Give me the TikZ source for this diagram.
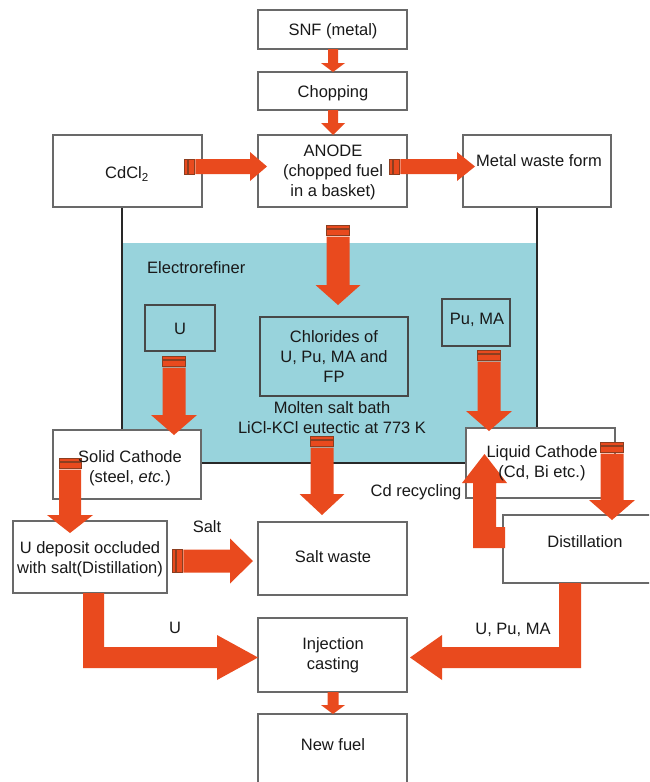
\documentclass[tikz,border=0pt]{standalone}
\usepackage{fontspec}
\setmainfont{Liberation Sans}
\definecolor{flow}{RGB}{233,74,30}
\definecolor{bath}{RGB}{152,211,220}
\definecolor{edge}{RGB}{105,105,105}
\definecolor{stripeline}{RGB}{140,62,32}
\definecolor{wall}{RGB}{40,40,40}
\definecolor{ink}{RGB}{25,25,25}

% box between (x1,y1) and (x2,y2), pixel-like units
\newcommand{\boxat}[6][box]{%
  \node[#1, minimum width={#5-#3}, minimum height={#6-#4}] (#2) at ({(#3+#5)/2},{(#4+#6)/2}) {};}
% downward block arrow: cx, ytop, yheadbase, ytip, half shaft, half head
\newcommand{\blockdown}[6]{%
  \fill[arrowbody] ({#1-#5},#2) -- ({#1+#5},#2) -- ({#1+#5},#3) -- ({#1+#6},#3) -- (#1,#4)
    -- ({#1-#6},#3) -- ({#1-#5},#3) -- cycle;}
% rightward block arrow: cy, xleft, xheadbase, xtip, half shaft, half head
\newcommand{\blockright}[6]{%
  \fill[arrowbody] (#2,{#1-#5}) -- (#3,{#1-#5}) -- (#3,{#1-#6}) -- (#4,#1) -- (#3,{#1+#6})
    -- (#3,{#1+#5}) -- (#2,{#1+#5}) -- cycle;}
% tail stripes of a downward arrow: cx, ytop, half width
\newcommand{\vstripes}[3]{%
  \filldraw[stripe] ({#1-#3},#2) rectangle ({#1+#3},{#2+3.5});
  \filldraw[stripe] ({#1-#3},{#2+4.8}) rectangle ({#1+#3},{#2+10.2});}
% tail stripes of a rightward arrow: xleft, cy, half height
\newcommand{\hstripes}[3]{%
  \filldraw[stripe] (#1,{#2-#3}) rectangle ({#1+3},{#2+#3});
  \filldraw[stripe] ({#1+4.3},{#2-#3}) rectangle ({#1+10},{#2+#3});}

\begin{document}
\begin{tikzpicture}[x=1pt,y=-1pt,
  box/.style={draw=edge, line width=1.4pt, fill=white, inner sep=0pt},
  inbox/.style={draw=wall!85, line width=1.3pt, inner sep=0pt},
  txt/.style={text=ink, font=\fontsize{16.5}{20}\selectfont, align=center, inner sep=0pt},
  arrowbody/.style={fill=flow},
  stripe/.style={fill=flow, draw=stripeline, line width=0.7pt}]

\fill[white] (0,0) rectangle (649,782);
\useasboundingbox (0,0) rectangle (649,782);
\clip (0,0) rectangle (649,782);

% electrorefiner vessel with molten salt
\fill[bath] (122,243) rectangle (537,463);
\draw[wall, line width=2pt] (122,207) -- (122,463) -- (537,463) -- (537,207);

% boxes
\boxat{snf}{258}{10}{407}{49}
\boxat{chop}{258}{72}{407}{110}
\boxat{anode}{258}{135}{407}{207}
\boxat{cdcl}{53}{135}{202}{207}
\boxat{metal}{463}{135}{611}{207}
\boxat[inbox]{ubox}{145}{305}{215}{351}
\boxat[inbox]{pubox}{442}{299}{510}{346}
\boxat[inbox]{chlor}{260}{317}{408}{396}
\boxat{solid}{53}{430}{201}{499}
\boxat{liquid}{466}{428}{615}{498}
\boxat{udep}{13}{521}{167}{593}
\boxat{saltw}{258}{522}{407}{595}
\boxat{dist}{503}{515}{672}{583}
\boxat{inj}{258}{618}{407}{692}
\boxat{newf}{258}{714}{407}{800}

% plain feed arrows
\blockdown{333}{49}{63}{72}{5}{12}
\blockdown{333}{110}{123}{135}{5}{12}
\blockdown{333}{692}{705}{714}{5.5}{12}

% striped arrows
\vstripes{338}{225}{11.5}\blockdown{338}{236.5}{285}{305}{11.5}{22.5}
\vstripes{174}{356}{11.5}\blockdown{174}{367.5}{415}{435}{11.5}{23}
\vstripes{489}{350}{11.5}\blockdown{489}{361.5}{411}{431}{11.5}{23}
\vstripes{322}{436}{11.5}\blockdown{322}{447.5}{494}{515}{11.5}{22.5}
\vstripes{70}{458}{11}\blockdown{70}{469.5}{515}{533}{11}{23}
\vstripes{612}{442}{11.5}\blockdown{612}{453.5}{500}{520}{11.5}{23}

\hstripes{184}{166.5}{7.5}\blockright{166.5}{195.3}{250}{267}{7.5}{14.5}
\hstripes{389}{166.5}{7.5}\blockright{166.5}{400.3}{457}{475}{7.5}{14.5}
\hstripes{172}{561}{11.5}\blockright{561}{183.3}{230}{253}{11.5}{22.5}

% Cd recycling: distillation back to the liquid cathode
\fill[arrowbody] (505,527) -- (496,527) -- (496,483) -- (507,483) -- (484.5,454)
  -- (462,483) -- (473,483) -- (473,548) -- (505,548) -- cycle;
% U to injection casting
\fill[arrowbody] (83,593) -- (104,593) -- (104,647) -- (217,647) -- (217,635) -- (258,657.5)
  -- (217,680) -- (217,668) -- (83,668) -- cycle;
% U, Pu, MA to injection casting
\fill[arrowbody] (559,583) -- (581,583) -- (581,668) -- (442,668) -- (442,680) -- (410,657.5)
  -- (442,635) -- (442,647) -- (559,647) -- cycle;

% texts
\node[txt] (tsnf) at (333,31) {SNF (metal)};
\node[txt] (tchop) at (333,93) {Chopping};
\node[txt] (tanode) at (333,172) {ANODE\\(chopped fuel\\in a basket)};
\node[txt] (tcdcl) at (127,174) {CdCl\textsubscript{2}};
\node[txt] (tmetal) at (539,161) {Metal waste form};
\node[txt, anchor=west] (tref) at (147,268) {Electrorefiner};
\node[txt] (tu) at (180,329) {U};
\node[txt] (tpu) at (477,320) {Pu, MA};
\node[txt] (tchlor) at (334,357) {Chlorides of\\U, Pu, MA and\\FP};
\node[txt] (tbath) at (332,418) {Molten salt bath\\LiCl-KCl eutectic at 773 K};
\node[txt] (tsolid) at (130,468) {Solid Cathode\\(steel, \textit{etc.})};
\node[txt] (tliquid) at (542,463) {Liquid Cathode\\(Cd, Bi etc.)};
\node[txt] (tcd) at (416,492) {Cd recycling};
\node[txt] (tudep) at (90,559) {U deposit occluded\\with salt(Distillation)};
\node[txt] (tsalt) at (207,527) {Salt};
\node[txt] (tsaltw) at (333,557) {Salt waste};
\node[txt] (tdist) at (585,542) {Distillation};
\node[txt] (tul) at (175,628) {U};
\node[txt] (tupm) at (513,630) {U, Pu, MA};
\node[txt] (tinj) at (333,655) {Injection\\casting};
\node[txt] (tnew) at (333,745) {New fuel};
\end{tikzpicture}
\end{document}
